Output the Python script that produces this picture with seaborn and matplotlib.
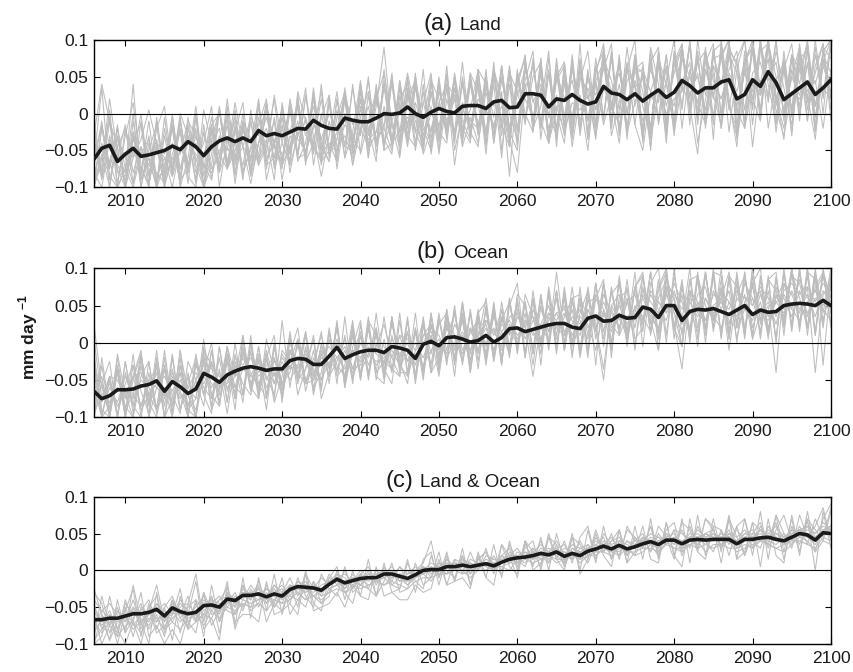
import numpy as np
import pandas as pd
import matplotlib
matplotlib.use('Agg')
import matplotlib.pyplot as plt
import seaborn as sns
from matplotlib.offsetbox import TextArea, HPacker, AnchoredOffsetbox

# years of the projection
years = np.arange(2006, 2101)

# ensemble means (units: 0.001 mm day^-1)
land_mean = [
    -62, -47, -43, -65, -55, -47, -58, -56, -53, -50,
    -44, -49, -38, -45, -57, -45, -37, -33, -38, -33,
    -38, -23, -30, -27, -30, -25, -20, -21, -9, -16,
    -20, -21, -6, -9, -11, -11, -6, 0, -1, 1,
    9, 0, -5, 2, 7, 3, 1, 10, 11, 11,
    7, 16, 18, 8, 9, 27, 27, 25, 9, 20,
    18, 26, 18, 13, 16, 37, 28, 26, 19, 27,
    17, 25, 32, 22, 29, 45, 38, 28, 35, 35,
    43, 46, 20, 26, 46, 37, 57, 42, 19, 27,
    35, 43, 26, 35, 46]

ocean_mean = [
    -65, -75, -71, -63, -63, -62, -58, -56, -51, -65,
    -52, -59, -68, -62, -41, -46, -53, -43, -38, -34,
    -32, -34, -37, -35, -35, -24, -21, -22, -29, -29,
    -18, -6, -21, -16, -12, -10, -10, -13, -5, -7,
    -10, -21, -2, 2, -4, 7, 8, 5, 1, 3,
    10, 1, 7, 19, 20, 15, 18, 21, 24, 26,
    26, 21, 19, 33, 36, 29, 30, 37, 33, 34,
    48, 45, 34, 50, 50, 30, 42, 45, 44, 46,
    42, 38, 44, 50, 38, 44, 41, 42, 50, 52,
    53, 52, 50, 57, 50]

both_mean = [
    -67, -67, -65, -65, -62, -59, -59, -57, -53, -62,
    -51, -56, -59, -57, -48, -47, -50, -39, -41, -34,
    -34, -32, -36, -32, -35, -26, -22, -23, -24, -27,
    -19, -12, -17, -14, -11, -10, -10, -5, -5, -8,
    -11, -6, 0, 1, 1, 5, 5, 7, 5, 7,
    9, 6, 11, 15, 17, 18, 20, 23, 21, 25,
    19, 23, 20, 26, 29, 33, 29, 34, 29, 32,
    36, 39, 35, 41, 41, 36, 41, 42, 41, 42,
    42, 42, 36, 42, 42, 44, 45, 42, 40, 45,
    50, 48, 41, 51, 50]

# individual model runs (grey), estimated from the spread in the figure
land_members = [
    [-30, 40, -10, -45, -20, -60, -35, 5, -40, -55,
     -20, -55, -10, -30, -75, -15, 0, -40, -10, -45,
     -5, -30, 10, -40, -5, -25, 15, -30, 10, -35,
     0, -20, 25, -15, 5, -30, 20, 55, -10, 20,
     40, -5, 15, -25, 30, -10, 25, 0, 40, -15,
     35, 10, 50, -20, 25, 60, 15, 40, -5, 55,
     20, 45, -10, 35, 5, 70, 30, 55, 0, 45,
     15, 60, 25, 40, 10, 75, 35, 50, 5, 65,
     40, 80, 10, 55, 30, 90, 45, 70, 0, 50,
     25, 65, 40, 80, 55],
    [-100, -15, -70, -20, -100, -35, -15, -95, -10, -85,
     -5, -90, -75, 0, -100, -20, -80, 10, -65, -15,
     -80, 15, -70, -60, 10, -55, 25, -70, 30, -45,
     -65, 20, -45, -50, 30, -60, 40, -35, -55, 45,
     -30, -45, 40, -50, 45, -35, 50, -20, -40, 60,
     -45, 55, -15, -45, 60, -10, 75, -20, 55, -25,
     60, -15, 70, -35, 65, -5, 85, -20, 65, 40,
     -35, 75, -10, 80, -15, 95, 5, 80, -10, 90,
     0, 100, -30, 70, 100, -5, 100, 25, -35, 75,
     -10, 95, -25, 85, 100],
    [-20, -85, -10, -100, -75, 0, -100, -40, -95, -5,
     -85, -10, -80, 0, -100, -70, 5, -75, -25, 15,
     -75, -40, 15, -70, -5, -65, 20, -60, 35, -50,
     15, -65, 35, -35, -50, 25, -45, 45, -40, 35,
     -30, 45, -45, 40, -20, 50, -40, 45, -35, 60,
     -30, 60, -20, 50, -40, 70, -15, 75, -40, 60,
     -20, 70, -25, 60, -30, 85, -10, 75, -20, 70,
     -25, 70, 90, -20, 75, 5, 100, -5, 80, -15,
     90, 10, -30, 85, 5, 95, 15, 100, -10, 80,
     0, 90, -20, 85, 20],
    [-95, -55, -100, -15, -100, -30, -90, -60, -100, -20,
     -80, -20, -85, -100, -15, -90, 5, -75, -40, -70,
     -10, -70, 15, -45, -75, 5, -60, -55, 25, -65,
     -50, 5, -60, 40, -55, -10, 30, -50, 45, -40,
     50, -25, -50, 30, -35, 55, -30, 40, -25, -45,
     50, -40, 65, -25, -50, 70, -10, 65, -35, 55,
     -20, 75, -30, 55, -15, 90, 5, 70, -35, 80,
     10, -30, 85, -15, 70, 95, 0, 75, -5, 85,
     95, 10, -20, 75, 90, 5, 100, 20, 60, -25,
     85, -10, 65, 95, 5],
    [-100, -60, -40, -70, -90, -50, -75, -95, -45, -60,
     -85, -50, -30, -60, -95, -40, -20, -75, -50, -15,
     -85, -40, -20, -60, -15, -70, -30, -10, -55, 0,
     -50, -25, -5, -70, -20, -45, 10, 90, -20, 0,
     55, 5, -55, -20, 15, 40, -70, 10, -25, 20,
     0, 60, 20, -35, -80, 35, 65, -10, -40, 5,
     45, -45, 25, -10, 60, 85, -30, 15, 70, -15,
     -50, 30, 65, -40, 85, 40, 10, -55, 60, 25,
     75, 100, -35, 30, 85, -10, 95, 20, -20, 60,
     10, 90, -5, 70, 100],
    [-60, -15, -85, -100, -20, -80, -45, -100, -5, -80,
     -70, -5, -80, -20, -100, -35, 5, -70, -15, -80,
     -45, 20, -75, -5, -65, 15, -55, 25, -45, -60,
     25, -55, 30, -40, 20, -45, 30, -45, 50, -25,
     45, -40, 30, -35, 50, -30, 35, -25, 55, -20,
     40, -30, 60, -35, 45, 75, -10, 60, -40, 70,
     -5, 65, -25, 55, -20, 80, 10, 70, -20, 60,
     70, -25, 75, -10, 65, 90, 10, 70, 85, -5,
     80, 100, 0, 70, 90, -5, 100, 15, 65, 0,
     75, 85, -20, 90, 75],
    [-35, -90, -30, -75, -100, -10, -85, -30, -100, -70,
     -20, -95, -15, -80, -60, -5, -70, -15, -85, -10,
     -85, -5, -60, -40, -70, 15, -65, -40, 25, -55,
     -40, -65, 25, -45, 20, -60, 35, -50, -40, 35,
     -15, 40, -50, 45, -25, -40, 45, -30, 50, -25,
     50, -30, 65, -40, 55, 0, -25, 75, -30, 50,
     70, -30, 60, -25, 75, -5, 75, 5, 65, -15,
     65, -20, 80, -15, 80, 10, 95, -10, 70, 95,
     -5, 85, 70, -20, 100, 25, 90, -10, 75, 5,
     95, 5, 80, 25, 100],
    [-70, -10, -100, -35, -60, -95, -10, -80, -45, -100,
     -5, -75, -30, -95, -25, -75, -60, 0, -80, -20,
     -60, -55, 5, -70, -20, -55, 10, -65, -40, 20,
     -55, -35, 30, -55, -20, 45, -40, -15, 40, -35,
     30, -50, 15, 55, -40, 35, -35, 50, -20, 45,
     -40, 60, 15, -45, 50, -15, 70, -20, 60, -35,
     55, -30, 75, -10, 45, 70, -20, 80, -25, 65,
     55, -25, 85, -25, 75, 35, 90, -15, 85, 25,
     -15, 90, 65, 5, 85, 40, 100, 20, -5, 80,
     60, 95, 10, 75, 25],
    [-85, -40, -65, -100, -75, -35, -55, -70, -80, -95,
     -60, -75, -40, -55, -70, -80, -50, -35, -65, -45,
     -60, -20, -65, -35, -55, -45, -25, -55, -15, -35,
     -45, -50, -15, -30, -10, -35, -25, 0, -40, -25,
     -5, -20, -35, 0, -15, 5, -30, 15, -10, -20,
     5, -15, 10, -25, 15, 20, -5, 30, -20, 10,
     -25, 15, 5, 25, -30, 35, 10, -15, 20, 40,
     -10, 20, 35, 0, 20, 30, 50, 15, -15, 40,
     20, 50, 5, -20, 40, 25, 55, 5, -30, 30,
     20, 45, 10, 35, 20],
    [-100, -60, -5, -80, -85, -25, -100, -50, -15, -90,
     -40, -95, -5, -70, -100, -20, -55, -75, 5, -85,
     -10, -65, -40, 20, -70, -45, 15, -55, 0, -70,
     -10, -60, 20, -45, 35, -50, -25, 40, -45, 10,
     -35, 50, -15, -40, 40, -25, 55, -10, -35, 50,
     0, 55, -30, 60, -25, 70, -15, 55, -35, 75,
     -15, 70, -20, 50, 5, 85, -20, 70, 0, 80,
     -35, 70, 15, 80, -10, 90, 20, 85, -20, 75,
     80, 5, 75, 100, -15, 85, 95, 10, 70, 5,
     85, 20, 90, 0, 100],
    [-10, -80, 5, -95, -30, 15, -70, -100, -20, 10,
     -75, 0, -30, -90, 5, -40, -70, 20, -60, 0,
     -80, 10, -55, 25, -40, -70, 30, -10, -50, 40,
     -60, 20, -45, 35, -30, 50, -55, 10, -40, 45,
     -20, 55, -40, 30, -35, 65, -50, 0, 45, -30,
     60, -40, 30, -85, 45, 75, -20, 10, 85, -45,
     70, -25, 95, -35, 40, -10, 80, -30, 60, 100,
     -40, 85, -15, 45, 100, -20, 60, 5, 90, -35,
     100, 20, -45, 75, 10, 100, 40, -15, 85, -5,
     70, -10, 100, 20, 90],
    [-100, -20, -75, -30, -100, -60, 0, -85, -40, -95,
     -15, -100, -60, 10, -85, -25, -75, -5, -95, -20,
     -65, 15, -90, -40, 5, -80, -25, 35, -70, -5,
     25, -75, 0, -45, 40, -20, -65, 60, -35, 15,
     -45, 35, -15, 50, -55, 20, -25, 70, -30, 40,
     -55, 50, -10, 65, -20, 45, 85, -35, 55, 0,
     -40, 60, 20, -50, 55, 95, -5, 40, -25, 70,
     30, -45, 70, 10, 55, 90, -15, 100, 25, 65,
     -20, 80, 55, -10, 100, 30, 75, -25, 60, 95,
     0, 70, -25, 85, 100],
    [-65, 35, -90, -45, -100, -25, -80, -10, -90, -75,
     0, -85, -20, -65, -40, 10, -100, -35, -5, -80,
     -50, -15, 20, -75, -40, 10, -60, 25, -30, -85,
     -30, 30, -60, -25, 45, -45, 20, -20, 55, -55,
     35, -25, 60, -55, 15, -20, 50, -40, 40, 10,
     -30, 70, -50, 40, -45, 60, 20, -15, 75, -20,
     55, -35, 45, 85, -15, 70, 15, -40, 60, 35,
     -20, 90, 40, -30, 70, 30, 95, -10, 60, 20,
     85, -25, 60, 100, 20, -10, 95, 50, 5, 80,
     40, 100, 10, 65, 30],
    [-95, -70, 20, -55, -80, 40, -90, -60, -100, -30,
     -85, -10, -70, -40, -100, -55, 10, -65, -20, -90,
     5, -60, -35, -90, 15, -50, -10, -60, 20, -40,
     -65, -5, 30, -50, -25, 10, -40, 35, -15, -60,
     20, 45, -30, 10, -50, 40, 25, -35, 55, 30,
     -25, 40, -60, 55, 30, -10, 50, 70, -30, 45,
     65, -10, 50, 30, -35, 75, 45, -5, 90, 10,
     55, -50, 75, 40, -20, 85, 25, 55, -10, 80,
     40, 95, -15, 60, 20, 100, -20, 45, 70, -30,
     80, 15, 55, 95, -10],
    [-80, -100, -35, -60, -15, -95, -45, -70, -35, -100,
     -55, -25, -95, -5, -70, -90, -30, -50, 15, -45,
     -95, -40, -5, -45, -65, 20, -35, -50, -20, 30,
     -50, -35, 20, -70, 10, -25, 25, -40, -10, -45,
     25, -10, -45, 45, 20, -30, 35, -20, 5, 60,
     40, -5, 65, -20, 35, 80, -25, 60, -40, 25,
     -30, 80, -20, 50, 25, 60, 95, -25, 45, 55,
     60, 30, -5, 65, -30, 75, 50, 15, 80, 45,
     20, 60, 85, -15, 55, 70, 25, 100, -5, 50,
     90, 30, 45, -20, 60],
    [-40, -85, -65, -20, -75, -100, -55, -35, -85, -60,
     -100, -45, -70, -30, -60, -15, -80, -45, -70, -10,
     -35, -70, -45, -10, -90, -30, -50, -5, -45, -65,
     15, -45, -30, -60, -5, 30, -35, -20, -50, 25,
     -40, 15, -20, -50, 35, -15, 20, -45, -5, -40,
     30, -20, 45, 0, -35, 40, -15, 35, 0, -30,
     40, -5, 60, 20, 45, -15, 25, 70, -25, 15,
     50, -35, 25, 60, -25, 40, 70, -40, 20, 55,
     -20, 55, 30, 70, -45, 45, 20, 85, 35, -15,
     60, 25, -35, 70, 40],
]

ocean_members = [
    [-40, -95, -60, -80, -45, -70, -85, -50, -35, -75,
     -40, -70, -85, -50, -30, -55, -65, -25, -45, -20,
     -45, -20, -50, -25, -40, -10, -35, -15, -40, -20,
     -30, 5, -25, -10, -20, 0, -15, -25, 5, -15,
     0, -30, 10, 15, -10, 20, -5, 15, -10, 10,
     25, -10, 15, 30, 10, 25, 35, 5, 30, 40,
     15, 35, 25, 45, 20, 40, 15, 50, 25, 45,
     60, 35, 20, 65, 40, 15, 55, 35, 60, 40,
     55, 25, 60, 45, 30, 65, 35, 55, 40, 70,
     45, 65, 35, 70, 55],
    [-100, -30, -95, -20, -90, -45, -10, -100, -25, -85,
     -15, -90, -40, -100, -5, -75, -20, -80, 0, -70,
     10, -70, -15, -75, 30, -60, 5, -55, -30, 15,
     -55, 25, -50, 20, -45, 35, -50, 5, -40, 40,
     -45, 15, -50, 35, -35, 45, -30, 40, -40, 30,
     -25, 45, -30, 60, -15, 55, -10, 65, -5, 70,
     -10, 60, -15, 75, 5, 80, -10, 85, 0, 75,
     95, 10, 75, 100, 5, 80, 15, 95, 10, 90,
     5, 90, 0, 95, 10, 85, 5, 90, 20, 95,
     15, 100, 10, 95, 20],
    [-55, -80, -45, -50, -75, -45, -40, -70, -55, -45,
     -65, -40, -60, -75, -25, -35, -45, -55, -20, -30,
     -15, -40, -25, -45, -20, -35, -5, -25, -45, -15,
     -5, -20, -5, -35, 0, -20, 10, -5, -20, 10,
     5, -10, 0, 20, 10, -15, 25, 5, 20, -10,
     30, 15, -5, 35, 40, 5, 30, 45, 15, 40,
     45, 30, 10, 55, 60, 35, 45, 20, 55, 30,
     70, 55, 40, 75, 65, 45, 70, 55, 30, 65,
     55, 45, 70, 60, 50, 75, 60, 35, 70, 80,
     65, 75, 55, 80, 70],
    [25, -60, -90, -40, -100, -30, -65, -95, -20, -70,
     -35, -90, -55, -20, -70, -25, -60, -5, -45, 10,
     -60, -15, -45, -70, -10, -25, 5, -50, -30, 10,
     -35, 20, -50, -15, 15, -40, 0, -30, 25, -20,
     15, -50, 25, -15, 30, -10, 40, -25, 20, 5,
     60, -20, 35, 10, 55, -15, 45, 20, 5, 95,
     10, 45, -15, 60, 25, -35, 50, 65, 15, 40,
     90, 30, -10, 85, 60, -5, 70, 40, 95, 15,
     70, -10, 65, 90, 20, 55, 10, 75, 45, 95,
     60, 20, 90, -30, 85],
    [-30, -100, -45, -100, -25, -95, -30, -85, -10, -100,
     -75, -20, -100, -25, -70, -10, -85, -5, -75, 5,
     -65, -5, -70, 0, -75, -10, -45, 15, -60, -40,
     15, -40, 10, -55, 25, -45, 20, -40, 30, -30,
     30, -45, 25, -40, 35, -30, 45, -25, 40, -35,
     50, -20, 45, -15, 55, -20, 60, -5, 65, -10,
     70, -5, 60, 10, 80, -5, 75, 15, 85, 5,
     20, 95, 5, 90, 15, 75, 10, 85, 0, 95,
     90, 5, 95, 15, 80, 10, 90, 0, 100, 15,
     95, 20, 100, 25, 90],
    [-95, -70, -55, -85, -65, -75, -50, -60, -85, -65,
     -80, -50, -70, -90, -45, -60, -40, -50, -65, -35,
     -45, -55, -30, -20, -55, -30, -45, -10, -35, -50,
     -25, -35, -10, -45, -20, -5, -30, -15, -35, 0,
     -25, -15, -30, -10, 5, -20, 0, 10, -25, 15,
     0, 20, -10, 25, 5, 30, 15, -5, 35, 20,
     40, 10, 35, 25, -10, 45, 20, 40, 5, 50,
     35, 15, 55, 40, 60, 25, 45, 15, 60, 35,
     20, 55, 30, 65, 5, 40, 55, 25, 65, 45,
     30, 55, 70, 45, 30],
    [-80, -45, -100, -35, -95, -15, -100, -25, -90, -35,
     -95, -10, -90, -100, -20, -85, -5, -80, -15, -70,
     -10, -75, -20, 10, -80, 5, -55, -5, -65, 0,
     -45, 30, -60, 15, -50, 25, -45, -55, 35, -35,
     35, -55, 25, -30, 40, -25, 50, -30, 45, -25,
     45, -25, 55, -5, 60, -20, 70, 0, 65, -15,
     75, 0, 55, -20, 80, 5, 70, 10, 75, -10,
     90, 15, 85, 0, 100, 10, 70, -5, 95, 20,
     85, 10, 80, 5, 100, 25, 70, 5, 95, 20,
     100, 10, 90, 30, 80],
    [-15, -90, -100, -40, -85, -100, -20, -70, -90, -20,
     -95, -30, -90, -75, 5, -70, -85, -15, -60, -70,
     0, -55, -75, -5, -60, 15, -50, -35, 10, -65,
     20, -45, -30, 30, -50, 20, -40, 35, -35, -45,
     30, -45, 35, -40, 25, 40, -25, 35, -40, 40,
     55, -25, 35, -20, 65, 50, -15, 60, -10, 70,
     -10, 60, 65, -10, 80, 15, 65, 80, -5, 75,
     90, 15, 70, 95, 20, -5, 85, 90, 20, 95,
     10, 90, 75, 15, 90, 5, 85, 95, 10, 100,
     25, 95, 85, 20, 100],
    [-100, -55, -25, -100, -40, -85, -15, -80, -30, -100,
     -20, -90, -45, -100, -10, -30, -85, -5, -75, -10,
     -65, -5, -75, -20, -65, 5, -50, 10, -70, -15,
     -45, 25, -55, 10, -45, 30, 10, -45, 35, -40,
     -40, 20, -35, 40, -40, 35, -20, 55, -25, 40,
     -15, 50, -30, 60, -5, 55, -15, 65, 0, 70,
     0, 75, -10, 70, 15, 80, 0, 85, 5, 75,
     15, 95, 10, 100, 20, 85, 0, 90, 15, 100,
     10, 85, 20, 95, 5, 90, 10, 85, 25, 100,
     20, 100, 15, 95, 25],
    [-35, -55, -80, -60, -70, -45, -85, -50, -60, -70,
     -50, -75, -60, -40, -55, -30, -45, -60, -45, -35,
     -20, -45, -35, -55, -15, -35, -30, -25, -50, -25,
     -30, -20, -35, -10, -25, -15, -25, -20, -10, -30,
     -15, 0, -20, 10, -15, 20, 5, -15, 15, 0,
     20, -10, 25, 15, 0, 30, 10, 20, 40, 20,
     10, 25, 45, 20, 30, 55, 25, 10, 35, 45,
     25, 65, 45, 30, 70, 35, 20, 55, 30, 50,
     60, 30, 20, 45, 60, 40, 30, 55, 60, 35,
     70, 40, 60, 50, 75],
    [-100, -20, -90, -35, -100, -50, -15, -80, -100, -30,
     -95, -10, -70, -100, -40, 0, -80, -25, -90, 10,
     -60, -75, 5, -40, -70, -15, 20, -55, -10, -60,
     15, -55, 35, -50, 10, -45, 40, -35, -55, 30,
     -40, 40, -45, 25, -30, 45, -25, 50, -35, 35,
     -20, 55, -25, 50, 80, -15, 60, -30, 70, -5,
     65, -20, 75, -15, 60, 85, -20, 90, 15, 95,
     -5, 80, 100, 10, 90, 30, 100, 5, 95, 20,
     100, 15, 90, 10, 100, 30, 85, 5, 95, 25,
     100, 20, 95, 40, 100],
    [-20, -100, -50, -100, -25, -85, -100, -40, -90, -10,
     -85, -40, -100, -15, -70, -95, -5, -65, -30, -80,
     0, -65, -20, -80, -45, 10, -70, -35, 5, -75,
     -40, 25, -60, -5, 30, -50, 15, -45, 35, -25,
     -55, 20, -40, 40, -20, 30, -45, 55, -15, 45,
     -30, 40, -20, 55, -10, 65, 35, -15, 75, 10,
     60, -15, 40, 70, -30, 80, 25, 55, 10, 75,
     30, 95, -10, 75, 40, -5, 85, 20, 90, 35,
     75, 5, 90, 20, 80, 100, 15, 65, 35, 100,
     25, 90, 10, 100, 45],
    [-80, -55, -100, -15, -70, -100, -45, -25, -95, -60,
     -100, -30, -85, -50, -15, -90, -60, -20, -75, -5,
     -55, -25, -90, -5, -55, -40, 0, -65, -20, -50,
     5, -30, -45, 25, -40, -15, 20, -50, 10, -30,
     -45, -10, 30, -40, -20, 35, 10, -25, 40, -15,
     45, -20, 30, 55, -5, 40, -30, 50, 15, 60,
     -10, 55, 30, 5, 65, 45, -10, 60, 70, 20,
     75, 25, 60, 85, 20, 65, 5, 90, 50, 30,
     60, 95, 25, 80, 60, 15, 85, 70, 30, 90,
     80, 35, 75, 95, 60],
    [-60, -100, -85, -30, -90, -70, -20, -100, -60, -35,
     -70, -95, -25, -50, -85, -10, -70, -45, -60, -15,
     -40, -60, -10, -55, -25, -50, -30, 15, -45, -5,
     -35, 0, -20, -40, 10, -30, -5, 25, -20, -45,
     15, -50, 10, 25, -25, 5, 40, -10, 15, 30,
     -5, 35, 15, -15, 45, 20, -45, 25, 50, 5,
     35, 60, -20, 45, 20, -50, 50, 30, 60, -5,
     65, 40, 15, 70, 25, -35, 60, 50, 20, 70,
     45, 70, 5, 55, 75, 30, 50, -40, 80, 65,
     40, 75, -40, 65, 80],
    [5, -75, -45, -95, -55, -30, -90, -70, -40, -100,
     -45, -65, -100, -30, -60, -75, -35, -95, -25, -55,
     -70, -20, -60, -40, -65, -10, -40, -55, -50, -10,
     -45, -25, 5, -35, -30, 20, -40, -25, -35, 10,
     -25, 15, -35, 10, -45, 25, -10, 30, -30, 20,
     30, 10, 45, -10, 35, 20, 55, -5, 40, 30,
     50, 0, 60, 35, 15, 65, 40, 20, 55, 65,
     25, 70, 55, 40, 80, 55, 20, 65, 75, 30,
     70, 55, 35, 85, 50, 70, 20, 60, 80, 45,
     85, 60, 70, 90, 40],
]

both_members = [
    [-30, -45, -85, -55, -70, -40, -75, -50, -35, -80,
     -45, -60, -35, -70, -30, -55, -40, -25, -50, -20,
     -40, -15, -45, -20, -30, -10, -35, -5, -25, -30,
     -5, -20, 0, -25, -5, 5, -20, 0, -10, 5,
     -15, 0, 10, 40, -10, 15, 0, 20, -5, 15,
     25, 0, 20, 30, 5, 35, 15, 40, 10, 30,
     35, 15, 40, 20, 45, 25, 40, 55, 20, 45,
     30, 60, 25, 50, 35, 55, 30, 60, 40, 25,
     55, 35, 60, 20, 50, 65, 30, 55, 75, 40,
     60, 35, 70, 45, 85],
    [-95, -80, -60, -90, -75, -70, -85, -65, -70, -55,
     -70, -80, -65, -60, -75, -55, -65, -50, -55, -45,
     -50, -45, -55, -40, -45, -40, -30, -40, -35, -40,
     -30, -25, -30, -20, -25, -20, -15, -20, -15, -20,
     -25, -15, -10, -10, -5, -5, 0, -5, 0, 5,
     0, 5, 5, 10, 10, 15, 10, 15, 20, 15,
     15, 20, 15, 20, 25, 25, 20, 30, 25, 25,
     30, 30, 25, 35, 30, 25, 35, 30, 35, 30,
     35, 30, 30, 35, 30, 40, 35, 30, 35, 40,
     40, 35, 30, 45, 40],
    [-60, -100, -75, -50, -85, -65, -45, -80, -60, -90,
     -40, -65, -75, -45, -60, -35, -70, -45, -30, -55,
     -25, -50, -30, -45, -55, -20, -30, -40, -15, -35,
     -30, -5, -25, -15, -20, -25, 0, -10, -20, -10,
     -20, -5, 5, -10, 10, 0, -10, 15, -5, 10,
     5, 20, 0, 25, 15, 5, 30, 20, 10, 35,
     5, 30, 25, 10, 35, 45, 15, 40, 30, 20,
     45, 25, 50, 35, 55, 20, 45, 35, 50, 55,
     30, 50, 45, 55, 40, 30, 60, 45, 35, 55,
     50, 65, 45, 55, 60],
    [-75, -55, -65, -85, -50, -75, -60, -70, -45, -65,
     -60, -45, -55, -65, -40, -50, -55, -35, -45, -30,
     -35, -30, -40, -25, -40, -30, -15, -25, -30, -20,
     -15, -10, -20, -10, -15, -5, -10, 0, -5, -15,
     -5, 0, 5, 0, 10, 5, 10, 5, 10, 5,
     15, 10, 15, 20, 20, 25, 20, 25, 15, 25,
     25, 20, 25, 30, 30, 35, 30, 35, 30, 40,
     35, 45, 40, 40, 45, 40, 45, 40, 50, 45,
     45, 50, 40, 45, 50, 45, 50, 45, 40, 50,
     55, 50, 45, 55, 50],
    [-50, -70, -55, -80, -45, -60, -55, -40, -70, -50,
     -35, -65, -50, -40, -55, -45, -35, -50, -35, -40,
     -20, -35, -25, -30, -20, -35, -15, -20, -25, -10,
     -20, -10, -5, -15, 0, -10, -15, -5, 5, -10,
     0, -10, 0, 10, 5, 15, 5, 0, 15, 10,
     10, 5, 20, 10, 25, 20, 30, 15, 25, 20,
     30, 25, 15, 35, 25, 40, 30, 25, 40, 30,
     45, 35, 30, 50, 40, 35, 50, 45, 35, 50,
     45, 40, 35, 50, 55, 40, 45, 50, 40, 55,
     45, 60, 40, 50, 60],
    [-85, -65, -95, -70, -60, -80, -70, -55, -85, -75,
     -65, -55, -80, -70, -60, -65, -45, -55, -60, -40,
     -45, -40, -35, -50, -35, -35, -40, -25, -35, -45,
     -25, -20, -30, -25, -10, -20, -15, -20, -10, -5,
     -20, -10, -5, -15, 0, -5, 10, 0, -10, 0,
     0, 10, 5, 0, 15, 10, 25, 15, 20, 10,
     15, 25, 10, 20, 20, 30, 25, 20, 30, 20,
     25, 35, 20, 40, 30, 30, 35, 40, 25, 35,
     35, 40, 25, 30, 35, 40, 35, 30, 25, 35,
     45, 40, 25, 40, 35],
    [-40, -55, -45, -60, -80, -50, -65, -75, -55, -45,
     -60, -40, -55, -70, -45, -40, -60, -30, -40, -35,
     -40, -25, -35, -20, -35, -25, -20, -30, -25, -35,
     -15, -5, -10, -20, -10, -15, -5, 0, -15, 5,
     -5, 5, -5, 5, 0, 10, 5, 15, 10, 0,
     20, 15, 10, 20, 30, 15, 25, 35, 25, 30,
     20, 35, 30, 25, 40, 35, 45, 30, 40, 35,
     40, 50, 45, 35, 55, 50, 40, 55, 45, 40,
     50, 45, 55, 40, 45, 55, 50, 60, 45, 50,
     55, 60, 50, 65, 55],
    [-70, -85, -70, -65, -55, -90, -50, -60, -50, -70,
     -55, -70, -60, -50, -35, -60, -55, -40, -50, -25,
     -35, -40, -25, -35, -45, -20, -25, -15, -35, -25,
     -20, -15, -25, -5, -20, -10, -15, -10, 0, -15,
     -10, -5, 5, -5, 5, -5, 15, 10, 0, 15,
     5, 0, 20, 15, 10, 25, 15, 30, 25, 40,
     20, 15, 30, 35, 20, 30, 40, 45, 25, 35,
     45, 40, 30, 45, 50, 30, 45, 50, 40, 45,
     40, 55, 30, 40, 45, 50, 40, 35, 45, 50,
     50, 45, 35, 55, 60],
    [-100, -60, -75, -55, -70, -50, -80, -55, -65, -80,
     -70, -50, -45, -60, -65, -40, -45, -45, -40, -50,
     -30, -35, -45, -30, -25, -40, -25, -30, -20, -25,
     -25, -20, -15, -10, -15, -5, -5, -10, -5, -10,
     -15, -10, 0, 5, -5, 5, 0, 5, 10, 5,
     10, 0, 10, 15, 20, 15, 25, 20, 25, 20,
     10, 30, 20, 30, 35, 30, 25, 35, 20, 35,
     40, 35, 40, 45, 35, 40, 45, 35, 45, 50,
     35, 45, 40, 45, 40, 55, 45, 40, 50, 35,
     55, 50, 40, 50, 55],
    [-55, -75, -60, -70, -65, -55, -70, -60, -45, -60,
     -50, -55, -70, -55, -45, -50, -40, -35, -40, -30,
     -30, -25, -35, -40, -30, -20, -25, -20, -25, -30,
     -10, -15, -20, -15, -5, -10, -5, -5, -10, -5,
     -5, 0, -5, 0, 5, 10, 0, 10, 5, 10,
     10, 15, 15, 20, 15, 20, 15, 25, 30, 25,
     25, 20, 25, 30, 35, 30, 35, 40, 35, 30,
     35, 40, 45, 40, 45, 35, 40, 45, 50, 40,
     50, 45, 40, 50, 45, 40, 55, 50, 45, 55,
     50, 55, 50, 60, 55],
    [-25, -60, -95, -40, -85, -20, -70, -100, -30, -85,
     -60, -25, -80, -40, -90, -20, -70, -30, -75, -10,
     -65, -10, -55, -5, -60, -20, -50, 0, -45, -55,
     -10, 5, -40, 0, -35, 15, -35, 10, -30, -25,
     15, -30, 15, 25, -20, 20, -15, 30, -20, 25,
     -10, 35, -10, 40, 0, 40, 5, 45, 0, 50,
     10, 50, 0, 55, 10, 60, 15, 55, 10, 60,
     15, 70, 15, 65, 20, 70, 10, 75, 20, 70,
     25, 75, 15, 70, 20, 80, 15, 75, 25, 70,
     20, 80, 25, 70, 90],
    [-100, -90, -35, -80, -100, -70, -30, -90, -75, -100,
     -80, -100, -60, -15, -80, -65, -95, -20, -70, -60,
     -60, -70, -15, -60, -55, -45, -60, -5, -55, -50,
     -45, -30, -50, -20, -35, -40, 5, -35, -30, -40,
     -40, -20, -30, -25, 15, -20, -15, -10, -25, 20,
     -10, -20, 35, 5, -5, 40, 0, 10, 45, 15,
     0, 45, -5, 15, 50, 20, 5, 55, 10, 25,
     60, 15, 10, 65, 20, 5, 70, 25, 15, 60,
     10, 70, 15, 25, 65, 5, 70, 20, 10, 75,
     25, 70, 0, 80, 30],
    [-45, -80, -60, -100, -55, -25, -90, -45, -80, -50,
     -95, -35, -70, -85, -30, -75, -55, -15, -80, -45,
     -50, -20, -70, -45, -10, -60, -40, -50, -15, -45,
     -35, 0, -30, -45, -5, -25, -35, -15, 10, -30,
     -25, 10, -20, -10, 25, -20, 15, -5, 25, 0,
     30, -5, 35, 20, -10, 40, 25, 5, 50, 15,
     40, 10, 45, 60, 15, 50, 35, 20, 55, 45,
     30, 60, 20, 55, 65, 25, 60, 30, 70, 55,
     30, 70, 45, 20, 65, 55, 35, 75, 50, 30,
     75, 45, 60, 85, 40],
    [-90, -35, -75, -90, -40, -70, -100, -55, -20, -70,
     -40, -85, -45, -5, -70, -35, -85, -30, -60, -20,
     -55, -45, -20, -50, -30, -45, -10, -35, -50, -5,
     -25, -35, 5, -30, -20, 0, -35, 5, -20, -25,
     10, -15, -25, 20, -10, 25, -15, 20, -20, 15,
     25, 5, -5, 35, 10, 30, 40, 0, 45, 35,
     5, 45, 35, 15, 55, 25, 50, 15, 60, 40,
     50, 25, 60, 45, 15, 65, 55, 25, 70, 60,
     55, 20, 60, 70, 30, 60, 40, 65, 15, 60,
     35, 70, 55, 40, 80],
]

panel_letters = ['(a)', '(b)', '(c)']
panel_names = ['Land', 'Ocean', 'Land & Ocean']
xticks = list(range(2010, 2101, 10))
yticks = [-100, -50, 0, 50, 100]
ytick_labels = ['\u22120.1', '\u22120.05', '0', '0.05', '0.1']

sns.set_theme(style='white')
plt.rcParams['font.family'] = ['Liberation Sans', 'DejaVu Sans']
plt.rcParams['mathtext.fontset'] = 'custom'
plt.rcParams['mathtext.rm'] = 'Liberation Sans'
plt.rcParams['mathtext.bf'] = 'Liberation Sans:bold'

fig = plt.figure(figsize=(8.54, 6.72), dpi=100)

# axes boxes in figure fractions (left, bottom, width, height)
boxes = [[0.110, 0.7213, 0.863, 0.2192],
         [0.110, 0.3790, 0.863, 0.2217],
         [0.110, 0.0417, 0.863, 0.2192]]

means = [land_mean, ocean_mean, both_mean]
members = [land_members, ocean_members, both_members]

for i in range(3):
    ax = fig.add_axes(boxes[i])
    runs = members[i]
    for r in runs:
        assert len(r) == len(years), (i, len(r))
    df = pd.DataFrame({
        'year': np.tile(years, len(runs)),
        'value': np.concatenate(runs),
        'member': np.repeat(np.arange(len(runs)), len(years)),
    })
    sns.lineplot(data=df, x='year', y='value', units='member', estimator=None,
                 color='#bdbdbd', lw=0.75, ax=ax, legend=False, zorder=2)
    ax.axhline(0, color='black', lw=0.8, zorder=2.5)
    sns.lineplot(x=years, y=means[i], color='#1a1a1a', lw=2.6, ax=ax, zorder=3)

    ax.set_xlim(2006, 2100)
    ax.set_ylim(-100, 100)
    ax.set_xticks(xticks)
    ax.set_yticks(yticks)
    ax.set_yticklabels(ytick_labels)
    ax.set_xlabel('')
    ax.set_ylabel('')
    ax.tick_params(direction='in', length=4.5, width=0.8, color='black',
                   top=True, right=True, bottom=True, left=True,
                   labelsize=12.5, labelcolor='#1a1a1a')
    ax.tick_params(axis='x', pad=5)
    ax.tick_params(axis='y', pad=4)
    for s in ax.spines.values():
        s.set_visible(True)
        s.set_color('black')
        s.set_linewidth(1.0)

    # title: big panel letter + smaller name
    box = HPacker(children=[TextArea(panel_letters[i], textprops=dict(size=17, color='#1a1a1a')),
                            TextArea(panel_names[i], textprops=dict(size=13.5, color='#1a1a1a'))],
                  align='baseline', pad=0, sep=5)
    anc = AnchoredOffsetbox(loc='lower center', child=box, pad=0, frameon=False,
                            bbox_to_anchor=(0.5, 1.035), bbox_transform=ax.transAxes,
                            borderpad=0)
    ax.add_artist(anc)

fig.text(28 / 854, 1 - 337 / 672, r'mm day $^{\mathbf{-1}}$', rotation=90,
         ha='center', va='center', fontsize=12.5, fontweight='bold', color='#1a1a1a')

fig.savefig('out.png', dpi=100)
